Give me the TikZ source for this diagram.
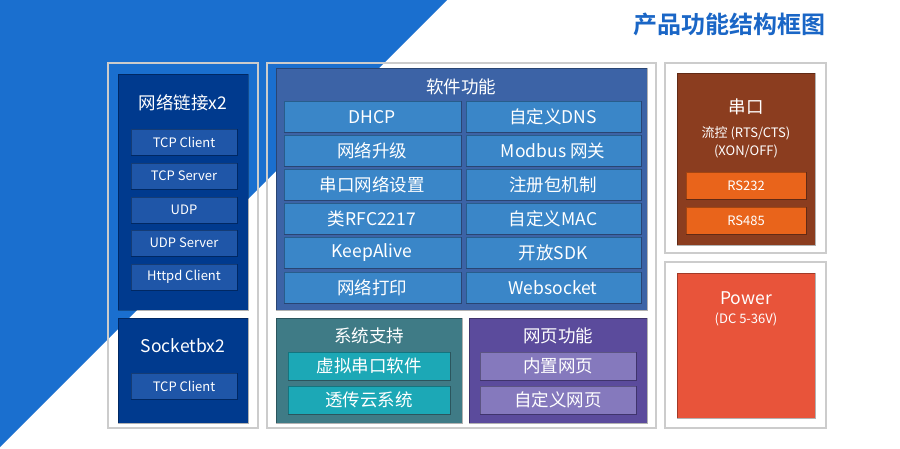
\documentclass[tikz,border=0pt]{standalone}
\usepackage{fontspec}
\setmainfont{Noto Sans CJK SC}
\newfontfamily\boldcjk{Noto Sans CJK SC Bold}
\definecolor{bgblue}{HTML}{1A6FCF}
\definecolor{navy}{HTML}{003A8E}
\definecolor{navyitem}{HTML}{1F56A8}
\definecolor{swbox}{HTML}{3C63A6}
\definecolor{switem}{HTML}{3A86C8}
\definecolor{teal}{HTML}{3F7B86}
\definecolor{tealitem}{HTML}{1CA8B6}
\definecolor{purp}{HTML}{5B4B9C}
\definecolor{purpitem}{HTML}{8579BD}
\definecolor{brown}{HTML}{8B3D1F}
\definecolor{orng}{HTML}{E9641B}
\definecolor{pwr}{HTML}{E8543A}
\definecolor{titleblue}{HTML}{1A66C6}
\tikzset{
  frame/.style={draw=black!20,line width=1.5pt},
  box/.style={draw=black,draw opacity=0.3,line width=0.6pt},
  txt/.style={text=white,inner sep=0pt,font=\fontsize{17.5}{20}\selectfont},
  stxt/.style={text=white,inner sep=0pt,font=\fontsize{13}{15}\selectfont},
}
\begin{document}
\begin{tikzpicture}[x=1pt,y=-1pt]
\useasboundingbox (0,0) rectangle (900,449);
\fill[white] (0,0) rectangle (900,449);
\fill[bgblue] (0,0) -- (447,0) -- (0,447) -- cycle;
\node[text=titleblue,font=\boldcjk\fontsize{24}{27}\selectfont,inner sep=0pt] (title) at (729,24) {产品功能结构框图};
% frames
\draw[frame] (108,63) rectangle (258,428);
\draw[frame] (267,63) rectangle (656,428);
\draw[frame] (665,63) rectangle (826,253);
\draw[frame] (665,262) rectangle (826,428);
% left
\filldraw[navy,box] (118,74) rectangle (248,310);
\node[txt] (net) at (183,103) {网络链接x2};
\foreach \t/\y [count=\i] in {TCP Client/129,TCP Server/163,UDP/197,UDP Server/230,Httpd Client/264}{
  \filldraw[navyitem,box] (131,\y) rectangle (237,\y+26);
  \node[stxt] (n\i) at (184,\y+13) {\t};
}
\filldraw[navy,box] (118,318) rectangle (248,423);
\node[txt] (sock) at (183,346) {Socketbx2};
\filldraw[navyitem,box] (131,373) rectangle (237,399);
\node[stxt] (sc) at (184,386) {TCP Client};
% software
\filldraw[swbox,box] (276,68) rectangle (647,310);
\node[txt] (sw) at (461,87) {软件功能};
\foreach \a/\b/\y [count=\i] in {DHCP/自定义DNS/101,网络升级/Modbus 网关/135,串口网络设置/注册包机制/169,类RFC2217/自定义MAC/203,KeepAlive/开放SDK/237,网络打印/Websocket/272}{
  \filldraw[switem,box] (284,\y) rectangle (461,\y+31);
  \filldraw[switem,box] (466,\y) rectangle (641,\y+31);
  \node[txt] (sl\i) at (372,\y+16) {\a};
  \node[txt] (sr\i) at (553,\y+16) {\b};
}
% system support
\filldraw[teal,box] (276,318) rectangle (462,423);
\node[txt] (sys) at (369,336) {系统支持};
\filldraw[tealitem,box] (288,352) rectangle (450,380);
\node[txt] (sy1) at (369,366) {虚拟串口软件};
\filldraw[tealitem,box] (288,386) rectangle (450,414);
\node[txt] (sy2) at (369,400) {透传云系统};
% web
\filldraw[purp,box] (469,318) rectangle (647,423);
\node[txt] (web) at (558,336) {网页功能};
\filldraw[purpitem,box] (480,352) rectangle (636,380);
\node[txt] (w1) at (558,366) {内置网页};
\filldraw[purpitem,box] (480,386) rectangle (636,414);
\node[txt] (w2) at (558,400) {自定义网页};
% serial
\filldraw[brown,box] (677,73) rectangle (815,245);
\node[txt] (ser) at (746,107) {串口};
\node[stxt] (fc) at (746,133) {流控 (RTS/CTS)};
\node[stxt] (xo) at (746,151) {(XON/OFF)};
\filldraw[orng,box] (686,172) rectangle (806,199);
\node[stxt] (r1) at (746,186) {RS232};
\filldraw[orng,box] (686,207) rectangle (806,234);
\node[stxt] (r2) at (746,221) {RS485};
% power
\filldraw[pwr,box] (677,273) rectangle (815,418);
\node[txt] (pw) at (746,298) {Power};
\node[stxt] (dc) at (746,319) {(DC 5-36V)};
\end{tikzpicture}
\end{document}
